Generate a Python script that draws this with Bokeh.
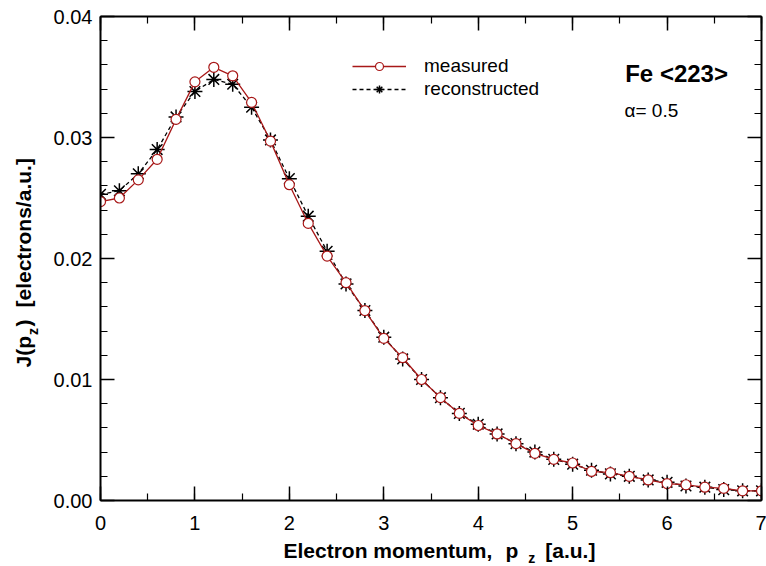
from bokeh.plotting import figure
from bokeh.models import (Range1d, LinearAxis, SingleIntervalTicker, PrintfTickFormatter,
                          CustomJSTickFormatter, Label, Legend, LegendItem)
from bokeh.layouts import row, column
from bokeh.core.properties import value
from bokeh.embed import file_html
from bokeh.resources import INLINE
import math

# Compton profile of Fe along <223>: momentum grid (a.u.) and J(pz) values
pz = [0.0, 0.2, 0.4, 0.6, 0.8, 1.0, 1.2, 1.4, 1.6, 1.8, 2.0, 2.2, 2.4, 2.6, 2.8, 3.0,
      3.2, 3.4, 3.6, 3.8, 4.0, 4.2, 4.4, 4.6, 4.8, 5.0, 5.2, 5.4, 5.6, 5.8, 6.0, 6.2,
      6.4, 6.6, 6.8, 7.0]
measured = [0.0247, 0.0250, 0.0265, 0.0282, 0.0315, 0.0346, 0.0358, 0.0351, 0.0329,
            0.0297, 0.0261, 0.0229, 0.0202, 0.0180, 0.0157, 0.0134, 0.0118, 0.0100,
            0.0085, 0.0072, 0.0062, 0.0055, 0.0047, 0.0039, 0.0034, 0.0031, 0.0024,
            0.0023, 0.0020, 0.0017, 0.0014, 0.0013, 0.0011, 0.0010, 0.0008, 0.0008]
reconstructed = [0.0253, 0.0256, 0.0270, 0.0290, 0.0317, 0.0338, 0.0348, 0.0344, 0.0325,
                 0.0298, 0.0266, 0.0235, 0.0206, 0.0179, 0.0157, 0.0135, 0.0117, 0.0100,
                 0.0085, 0.0072, 0.0063, 0.0055, 0.0047, 0.0040, 0.0034, 0.0030, 0.0025,
                 0.0022, 0.0020, 0.0017, 0.0015, 0.0012, 0.0011, 0.0009, 0.0008, 0.0008]

FONT = "Liberation Sans"
RED = "#a81818"

LEFT_W = 46      # strip holding the rotated y title
BOTTOM_H = 26    # strip holding the x title
W, H = 766, 566

p = figure(width=W - LEFT_W, height=H - BOTTOM_H, output_backend="svg",
           toolbar_location=None,
           x_range=Range1d(0, 7), y_range=Range1d(0, 0.04),
           x_axis_location=None, y_axis_location=None,
           min_border_left=100 - LEFT_W, min_border_right=5, min_border_top=16,
           min_border_bottom=40)
p.outline_line_color = None
p.xgrid.visible = False
p.ygrid.visible = False


def make_axis(kind, show_labels):
    if kind == "x":
        ticker = SingleIntervalTicker(interval=1, num_minor_ticks=2)
    else:
        ticker = SingleIntervalTicker(interval=0.01, num_minor_ticks=5)
    if show_labels:
        fmt = PrintfTickFormatter(format="%.2f" if kind == "y" else "%d")
    else:
        fmt = CustomJSTickFormatter(code="return ''")
    ax = LinearAxis(ticker=ticker, formatter=fmt)
    ax.axis_line_width = 2
    ax.axis_line_color = "black"
    ax.major_tick_in = 14
    ax.major_tick_out = 0
    ax.minor_tick_in = 7
    ax.minor_tick_out = 0
    ax.major_tick_line_width = 1.5
    ax.minor_tick_line_width = 1.2
    ax.major_label_text_font = FONT
    ax.major_label_text_font_size = "20px"
    ax.major_label_text_color = "black"
    if show_labels:
        ax.major_label_standoff = 8 if kind == "y" else 15
    else:
        ax.major_label_standoff = 0
    return ax


p.add_layout(make_axis("x", True), "below")
p.add_layout(make_axis("x", False), "above")
p.add_layout(make_axis("y", True), "left")
p.add_layout(make_axis("y", False), "right")

# reconstructed profile (dashed black with asterisks), then measured on top
r_line = p.line(pz, reconstructed, line_color="black", line_width=1.3, line_dash="4 3")
r_mark = p.scatter(pz, reconstructed, marker="asterisk", size=15, line_color="black",
                   line_width=1.5)
m_line = p.line(pz, measured, line_color=RED, line_width=1.3)
m_mark = p.scatter(pz, measured, marker="circle", size=10, fill_color="white",
                   line_color=RED, line_width=1.2)

legend = Legend(items=[LegendItem(label="measured", renderers=[m_line, m_mark]),
                       LegendItem(label="reconstructed", renderers=[r_line, r_mark])],
                location=(252, 400), margin=0, padding=0, spacing=1,
                glyph_width=54, glyph_height=20, label_height=20, label_standoff=18,
                label_text_font=FONT, label_text_font_size="19px",
                label_text_color="black",
                border_line_color=None, background_fill_alpha=0)
p.add_layout(legend, "center")

p.add_layout(Label(x=524.7, y=427, x_units="screen", y_units="screen", text="Fe <223>",
                   text_font=FONT, text_font_size="24px", text_font_style="bold",
                   text_color="black", text_baseline="middle", text_align="left"))
p.add_layout(Label(x=524, y=390, x_units="screen", y_units="screen", text="\u03b1= 0.5",
                   text_font=FONT, text_font_size="19px", text_color="black",
                   text_baseline="middle", text_align="left"))


def text_strip(width, height, x_range, y_range):
    f = figure(width=width, height=height, output_backend="svg", toolbar_location=None,
               x_range=x_range, y_range=y_range,
               x_axis_location=None, y_axis_location=None,
               min_border=0, min_border_left=0, min_border_right=0,
               min_border_top=0, min_border_bottom=0)
    f.outline_line_color = None
    f.xgrid.visible = False
    f.ygrid.visible = False
    return f


def put(fig, x, y, txt, size, angle=0.0):
    fig.text(x=[x], y=[y], text=[txt], angle=angle, text_font=value(FONT),
             text_font_size=size, text_font_style="bold", text_color="black",
             text_baseline="middle", text_align="left")


# x title "Electron momentum,  p_z [a.u.]" — shares the momentum axis scale,
# vertical positions in pixels above the bottom of the strip
xt = text_strip(W - LEFT_W, BOTTOM_H, p.x_range, Range1d(0, BOTTOM_H))
put(xt, 1.938, 16, "Electron momentum,", "21px")
put(xt, 4.29, 16, "p", "21px")
put(xt, 4.53, 8.5, "z", "14px")
put(xt, 4.71, 16, "[a.u.]", "21px")

# y title, rotated, in pixel coordinates of its strip
ang = math.pi / 2
yt = text_strip(LEFT_W, H, Range1d(0, LEFT_W), Range1d(0, H))
put(yt, 23, 199, "J(p", "21px", ang)
put(yt, 32, 231.5, "z", "14px", ang)
put(yt, 23, 240, ")", "21px", ang)
put(yt, 23, 259, "[electrons/a.u.]", "21px", ang)

layout = row(yt, column(p, xt))

open("out.html", "w").write(file_html(layout, INLINE))
